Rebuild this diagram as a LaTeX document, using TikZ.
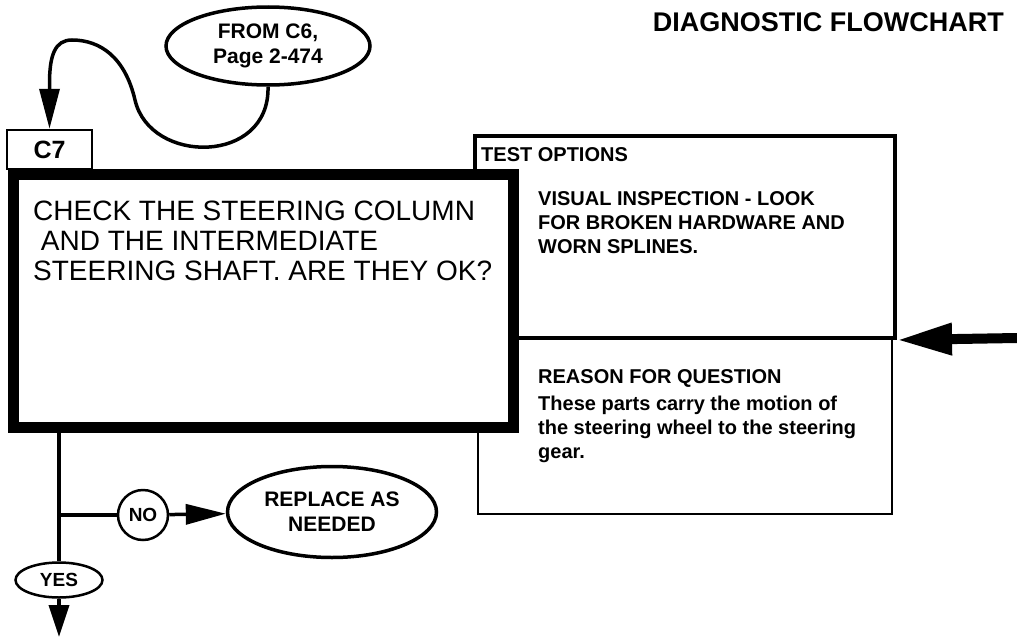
\documentclass[tikz,border=0pt]{standalone}
\usepackage{fontspec}
\setmainfont{Liberation Sans}
\usetikzlibrary{arrows.meta,positioning,shapes.geometric}

\tikzset{
  flow/.style={line width=3.5pt},
  flowto/.style={flow,-{Triangle[length=40pt,width=20pt]}},
  oval/.style={ellipse,draw,line width=3.5pt,align=center,inner sep=0pt,
    font=\bfseries\fontsize{21}{25}\selectfont},
  answer/.style={ellipse,draw,line width=2.5pt,inner sep=0pt,
    font=\bfseries\fontsize{19}{19}\selectfont},
  boxtext/.style={anchor=base west,align=left,inner sep=0pt,
    font=\bfseries\fontsize{20}{24}\selectfont},
}

\begin{document}
\begin{tikzpicture}[x=1pt,y=-1pt]
  \useasboundingbox (0,0) rectangle (1017,637);
  \node[anchor=base east,inner sep=0pt,font=\bfseries\fontsize{27}{27}\selectfont]
    (title) at (1004,31) {DIAGNOSTIC FLOWCHART};

  % side panel
  \node[draw,line width=4pt,minimum width=420pt,minimum height=202pt] (opts) at (685,237) {};
  \node[draw,line width=2pt,minimum width=414pt,minimum height=176pt] (why) at (685,426) {};
  \node[boxtext] (optshead) at (481,161) {TEST OPTIONS};
  \node[boxtext] (optsbody) at (538,253) {VISUAL INSPECTION - LOOK\\FOR BROKEN HARDWARE AND\\WORN SPLINES.};
  \node[boxtext] (whyhead) at (538,383) {REASON FOR QUESTION};
  \node[boxtext] (whybody) at (538,458) {These parts carry the motion of\\the steering wheel to the steering\\gear.};

  % question
  \node[draw,line width=2.5pt,minimum width=85pt,minimum height=39pt,
    font=\bfseries\fontsize{25}{25}\selectfont] (c7) at (49.5,149.5) {C7};
  \node[draw,line width=10.5pt,fill=white,minimum width=500pt,minimum height=253pt] (check) at (263.5,301) {};
  \node[anchor=base west,align=left,inner sep=0pt,font=\fontsize{28}{30}\selectfont]
    (checktxt) at (33,280) {CHECK THE STEERING COLUMN\\\ AND THE INTERMEDIATE\\STEERING SHAFT. ARE THEY OK?};

  \node[oval,minimum width=204pt,minimum height=78pt] (fromc6) at (268,46) {FROM C6,\\Page 2-474};
  \node[oval,minimum width=209pt,minimum height=91pt] (replace) at (332,512) {REPLACE AS\\NEEDED};
  \node[answer,circle,minimum size=50pt] (no) at (143,515) {NO};
  \node[answer,minimum width=87pt,minimum height=35pt] (yes) at (59,580) {YES};

  \coordinate (split) at (yes.north |- no);
  \coordinate (exit) at (59,637);
  \coordinate (feed) at (1017,338);

  \draw[flowto] (fromc6.south) .. controls (270,165) and (150,165) .. (135,100)
    .. controls (125,57) and (100,40) .. (72,40)
    .. controls (55,40) and (49.5,55) .. ([yshift=45pt]c7.north) -- (c7.north);
  \draw[flow] (check.south -| yes.north) -- (yes.north);
  \draw[flow] (split) -- (no);
  \draw[flowto] (no) -- (replace);
  \draw[flow,-{Triangle[length=32pt,width=20pt]}] (yes.south) -- (exit);
  \draw[line width=10pt,-{Triangle[length=55pt,width=30pt]}] (feed) -- (opts.south east);
\end{tikzpicture}
\end{document}
